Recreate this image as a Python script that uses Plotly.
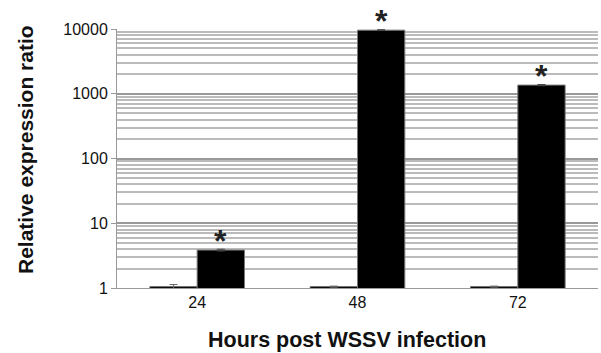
import plotly.graph_objects as go
import math

categories = ["24", "48", "72"]
control = [1.05, 1.05, 1.05]
control_err = [0.08, 0.02, 0.02]
treated = [3.85, 9600, 1360]
treated_err = [0.12, 150, 30]
marks = ["*", "*", "*"]
ytick_vals = [1, 10, 100, 1000, 10000]
ytick_text = ["1", "10", "100", "1000", "10000"]
minor_vals = [m * d for d in [1, 10, 100, 1000] for m in range(2, 10)]
x_title = "Hours post WSSV infection"
y_title = "Relative expression ratio"

W, H = 601, 353
L, R, T, B = 117, 3, 29, 65
BARGAP = 0.41

fig = go.Figure()
fig.add_trace(go.Bar(
    x=categories, y=control, marker=dict(color="black", line=dict(color="#666", width=1)),
    error_y=dict(type="data", array=control_err, color="#666", thickness=1, width=4),
    showlegend=False))
fig.add_trace(go.Bar(
    x=categories, y=treated, marker=dict(color="black", line=dict(color="#777", width=1)),
    error_y=dict(type="data", array=treated_err, color="#444", thickness=1, width=4),
    showlegend=False))

pw, ph = W - L - R, H - T - B
cat_px = pw / len(categories)
bar_px = cat_px * (1 - BARGAP) / 2
for i, (v, m) in enumerate(zip(treated, marks)):
    fig.add_annotation(text="<b>" + m + "</b>", x=i, y=math.log10(v), xref="x", yref="y",
                       xshift=bar_px / 2, yshift=9, showarrow=False,
                       xanchor="center", yanchor="middle",
                       font=dict(size=32, color="#222"))

fig.add_annotation(text="<b>" + x_title + "</b>", xref="paper", yref="paper",
                   x=(347 - L) / pw, y=-(340 - (T + ph)) / ph, showarrow=False,
                   font=dict(size=21.5), xanchor="center", yanchor="middle")
fig.add_annotation(text="<b>" + y_title + "</b>", xref="paper", yref="paper",
                   x=-(L - 25) / pw, y=1 - (150 - T) / ph, showarrow=False, textangle=-90,
                   font=dict(size=21), xanchor="center", yanchor="middle")

fig.update_layout(
    width=W, height=H,
    margin=dict(l=L, r=R, t=T, b=B, autoexpand=False),
    paper_bgcolor="white", plot_bgcolor="white",
    barmode="group", bargap=BARGAP, bargroupgap=0,
    font=dict(family="Liberation Sans, Arial", color="#111"),
    xaxis=dict(
        type="category", range=[-0.5, len(categories) - 0.5],
        tickfont=dict(size=16), showline=True, linecolor="#999", linewidth=1,
        ticks="", showgrid=False, automargin=False),
    yaxis=dict(
        type="log", range=[0, 4], automargin=False,
        tickvals=ytick_vals, ticktext=ytick_text, tickfont=dict(size=16),
        showline=True, linecolor="#999", linewidth=1,
        ticks="outside", ticklen=5, tickcolor="#999",
        showgrid=True, gridcolor="#999", gridwidth=2,
        minor=dict(tickmode="array", tickvals=minor_vals, showgrid=True,
                   gridcolor="#bbb", gridwidth=1.5, ticks=""),
        zeroline=False),
)
fig.write_html("out.html", config={"displayModeBar": False})

with open("out.html", encoding="utf-8") as f:
    html = f.read()
html = html.replace("<body>", '<body style="margin:0;padding:0;overflow:hidden">', 1)
with open("out.html", "w", encoding="utf-8") as f:
    f.write(html)
